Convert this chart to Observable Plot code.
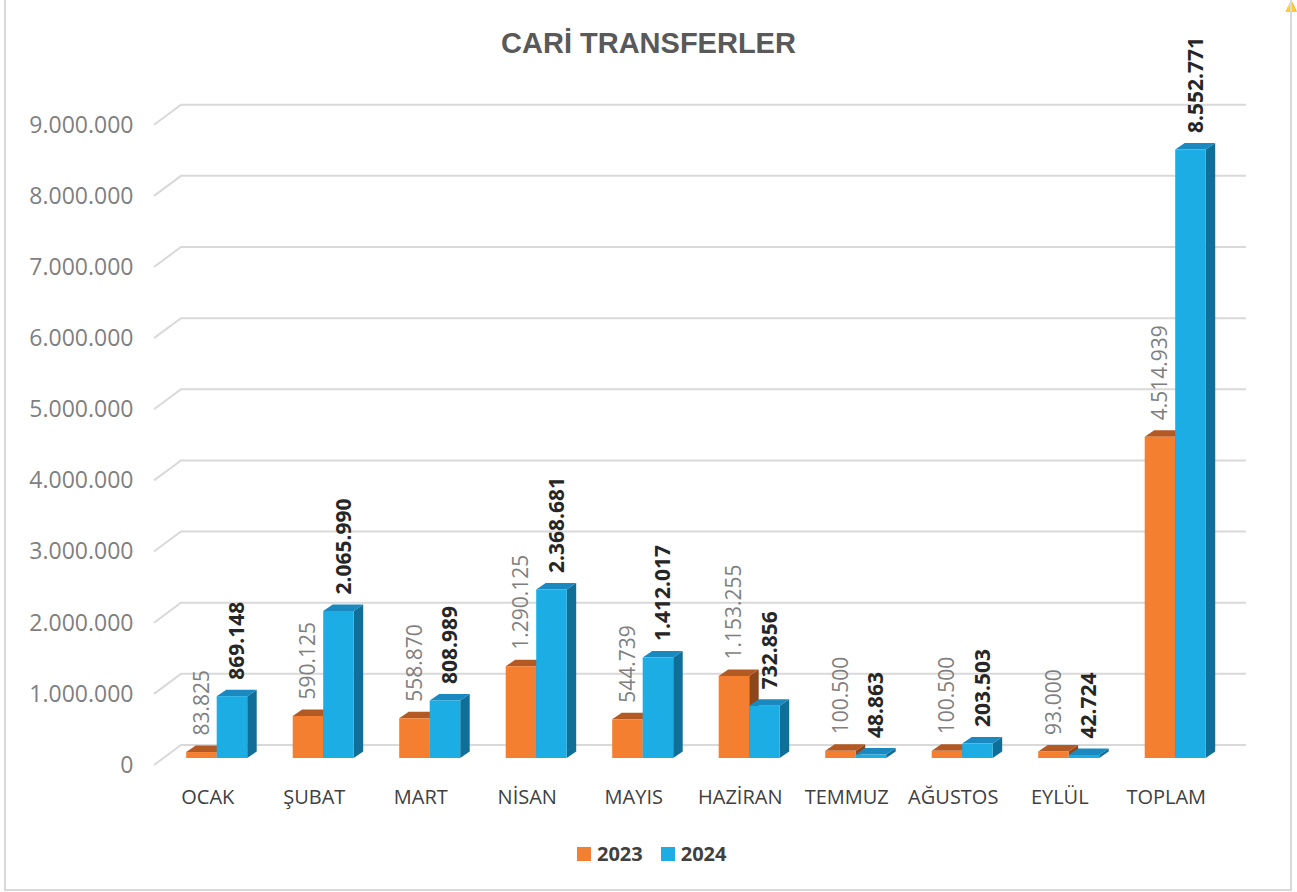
<!DOCTYPE html>
<html>
<head>
<meta charset="utf-8">
<script src="https://cdn.jsdelivr.net/npm/d3@7"></script>
<script src="https://cdn.jsdelivr.net/npm/@observablehq/plot@0.6"></script>
<style>
  html, body { margin: 0; padding: 0; background: #ffffff; }
  #wrap { position: relative; width: 1297px; height: 892px; overflow: hidden; background: #fff; }
  #frame { position: absolute; left: 4px; top: 0px; width: 1284px; height: 889px; border: 2px solid #d9d9d9; border-top: none; box-sizing: content-box; pointer-events: none; }
  #title { position: absolute; left: 0; width: 1297px; top: 26px; line-height: 34px; text-align: center;
           font-family: "Liberation Sans", Arial, sans-serif; font-weight: bold; font-size: 29px; color: #595959; }
  #legend { position: absolute; left: 577px; top: 844px; height: 20px; display: flex; align-items: center;
            font-family: "Open Sans", sans-serif; font-weight: bold; font-size: 20px; line-height: 20px; color: #404040; }
  #legend .sw { width: 14px; height: 14px; display: inline-block; margin-right: 6px; }
  #legend .item { display: flex; align-items: center; margin-right: 18px; }
  #chart { position: absolute; left: 0; top: 0; }
</style>
</head>
<body>
<div id="wrap">
  <div id="chart"></div>
  <div id="title">CARİ TRANSFERLER</div>
  <div id="legend"></div>
  <div id="frame"></div>
</div>
<script>
// ---- data ----
const months = ["OCAK", "ŞUBAT", "MART", "NİSAN", "MAYIS", "HAZİRAN", "TEMMUZ", "AĞUSTOS", "EYLÜL", "TOPLAM"];
const years = ["2023", "2024"];
const values2023 = [83825, 590125, 558870, 1290125, 544739, 1153255, 100500, 100500, 93000, 4514939];
const values2024 = [869148, 2065990, 808989, 2368681, 1412017, 732856, 48863, 203503, 42724, 8552771];
const yTicks = [0, 1000000, 2000000, 3000000, 4000000, 5000000, 6000000, 7000000, 8000000, 9000000];

// ---- styles ----
const faces = {
  "2023": {front: "#f47f31", top: "#b35a24", side: "#8e461b"},
  "2024": {front: "#1badE4", top: "#1a89c0", side: "#0f6f98"}
};
const WALL = [27, -20];      // depth vector of the back wall (px)
const FRONT = [9.45, -7];    // bar front face offset
const DEPTH = [9.5, -6.5];   // bar depth
const BAR_W = 30.5;

const rows = [];
months.forEach((m, i) => {
  rows.push({month: m, year: "2023", value: values2023[i]});
  rows.push({month: m, year: "2024", value: values2024[i]});
});

const fmt = v => d3.format(",")(v).replace(/,/g, ".");

function gridRender(index, scales, values, dims) {
  const g = d3.create("svg:g");
  const {marginLeft, marginRight, width} = dims;
  for (const i of index) {
    const y = values.y[i];
    g.append("path")
      .attr("d", `M${marginLeft},${y}L${marginLeft + WALL[0]},${y + WALL[1]}L${width - marginRight + WALL[0]},${y + WALL[1]}`)
      .attr("fill", "none").attr("stroke", "#d9d9d9").attr("stroke-width", 2);
  }
  return g.node();
}

function barsRender(index, scales, values, dims) {
  const g = d3.create("svg:g");
  const {marginLeft, marginRight, width} = dims;
  const bw = (width - marginLeft - marginRight) / months.length;
  for (const i of index) {
    const r = rows[i];
    const c = values.x[i] + bw / 2;
    const x0 = (r.year === "2023" ? c - BAR_W : c) + FRONT[0];
    const x1 = x0 + BAR_W;
    const yt = Math.min(values.y1[i], values.y2[i]) + FRONT[1];
    const yb = Math.max(values.y1[i], values.y2[i]) + FRONT[1];
    const f = faces[r.year];
    const [dx, dy] = DEPTH;
    g.append("path").attr("fill", f.side)
      .attr("d", `M${x1},${yt}L${x1 + dx},${yt + dy}L${x1 + dx},${yb + dy}L${x1},${yb}Z`);
    g.append("path").attr("fill", f.top)
      .attr("d", `M${x0},${yt}L${x0 + dx},${yt + dy}L${x1 + dx},${yt + dy}L${x1},${yt}Z`);
    g.append("rect").attr("fill", f.front)
      .attr("x", x0).attr("y", yt).attr("width", BAR_W).attr("height", Math.max(0, yb - yt));
  }
  return g.node();
}

const chart = Plot.plot({
  width: 1297,
  height: 892,
  marginTop: 124.7,
  marginBottom: 127,
  marginLeft: 154,
  marginRight: 78,
  style: {fontFamily: "'Open Sans', sans-serif", background: "transparent", overflow: "visible"},
  x: {type: "band", domain: months, paddingInner: 0, paddingOuter: 0, round: false},
  y: {domain: [0, 9000000], round: false},
  marks: [
    Plot.ruleY(yTicks, {y: d => d, render: gridRender}),
    Plot.barY(rows, {x: "month", y1: 0, y2: "value", fill: "year", render: barsRender}),
    Plot.text(rows.filter(d => d.year === "2023"), {
      x: "month", y: "value", text: d => fmt(d.value), rotate: -90, textAnchor: "start",
      dx: -5.8, dy: -24, fill: "#7f7f7f", fontSize: 21
    }),
    Plot.text(rows.filter(d => d.year === "2024"), {
      x: "month", y: "value", text: d => fmt(d.value), rotate: -90, textAnchor: "start",
      dx: 30, dy: -24, fill: "#262626", fontSize: 21, fontWeight: "bold"
    }),
    Plot.axisY({ticks: yTicks, tickFormat: fmt, tickSize: 0, tickPadding: 21, fontSize: 23, color: "#7f7f7f", label: null, dy: 0}),
    Plot.axisX({tickSize: 0, tickPadding: 24, fontSize: 20, color: "#404040", label: null})
  ]
});
document.getElementById("chart").appendChild(chart);

// legend
const legend = document.getElementById("legend");
years.forEach(y => {
  const item = document.createElement("span");
  item.className = "item";
  const sw = document.createElement("span");
  sw.className = "sw";
  sw.style.background = faces[y].front;
  item.appendChild(sw);
  item.appendChild(document.createTextNode(y));
  legend.appendChild(item);
});
</script>
</body>
</html>
